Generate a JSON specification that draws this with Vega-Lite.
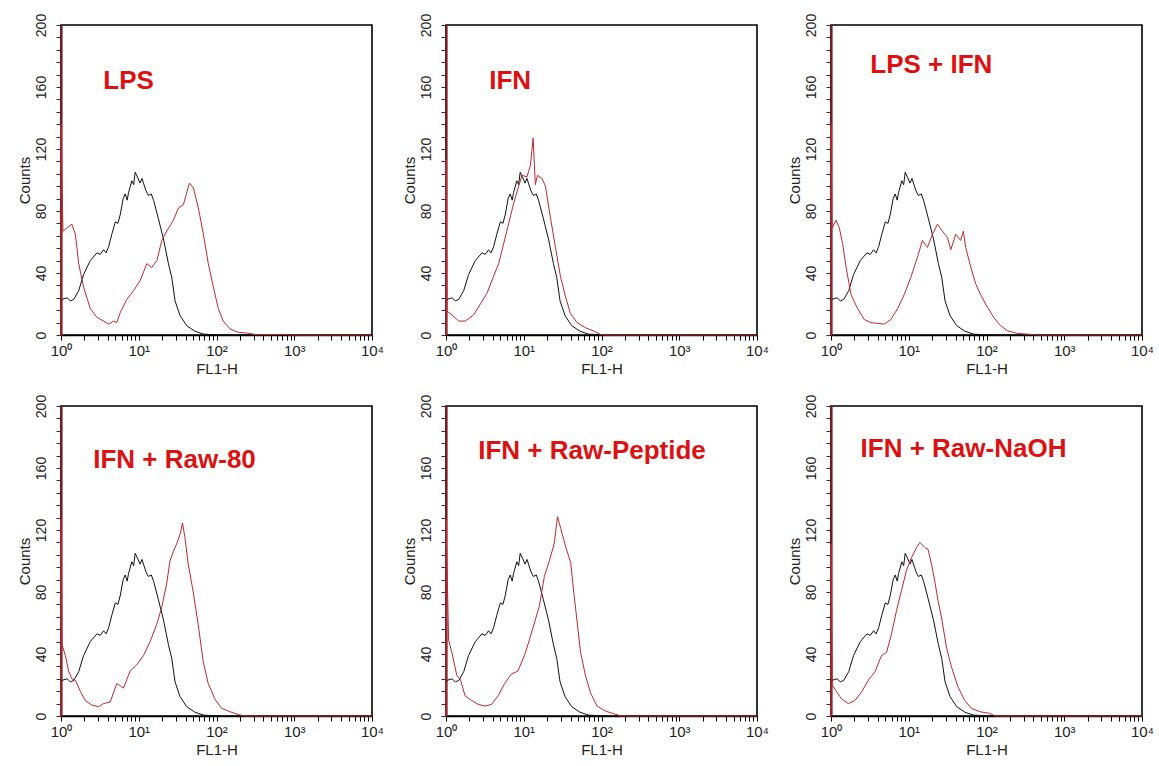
{
  "$schema": "https://vega.github.io/schema/vega-lite/v6.json",
  "background": "white",
  "padding": {"left": 16, "top": 12, "right": 0, "bottom": 0},
  "spacing": {"row": 16, "column": 16},
  "columns": 3,
  "datasets": {
    "control": [
      {"x":1,"y":22},{"x":1.03,"y":23},{"x":1.2,"y":24},{"x":1.32,"y":22},{"x":1.46,"y":23},{"x":1.69,"y":28.6},{"x":1.95,"y":39},{"x":2.38,"y":48},{"x":2.9,"y":53},{"x":3.2,"y":52},{"x":3.53,"y":55},{"x":3.8,"y":53},{"x":4.1,"y":57},{"x":4.5,"y":65},{"x":5,"y":73},{"x":5.4,"y":72},{"x":5.8,"y":78},{"x":6.3,"y":88},{"x":6.7,"y":91},{"x":7.1,"y":87},{"x":7.4,"y":92},{"x":8.15,"y":99.5},{"x":8.6,"y":97},{"x":9,"y":105},{"x":9.6,"y":102},{"x":10.4,"y":98},{"x":11,"y":101},{"x":11.5,"y":98},{"x":12.4,"y":93},{"x":13.3,"y":90},{"x":14.5,"y":91},{"x":15.5,"y":87},{"x":17.9,"y":75},{"x":20.8,"y":62},{"x":24.1,"y":46},{"x":26.6,"y":37},{"x":29.3,"y":22},{"x":34,"y":12.5},{"x":41.4,"y":6},{"x":53,"y":2.4},{"x":67.8,"y":0.6},{"x":91,"y":0.2},{"x":120,"y":0},{"x":10000,"y":0}
    ],
    "lps": [
      {"x":1,"y":0},{"x":1,"y":136},{"x":1.06,"y":67},{"x":1.19,"y":69},{"x":1.38,"y":71.5},{"x":1.53,"y":65},{"x":1.69,"y":46},{"x":1.95,"y":31},{"x":2.38,"y":17},{"x":2.9,"y":11.4},{"x":3.53,"y":9},{"x":4.1,"y":7},{"x":4.74,"y":9},{"x":5.2,"y":8},{"x":5.8,"y":14.6},{"x":7.03,"y":23},{"x":8.57,"y":28.6},{"x":10.4,"y":35},{"x":12.7,"y":46},{"x":14.7,"y":43.6},{"x":17.1,"y":48},{"x":19.8,"y":61},{"x":22.9,"y":67},{"x":27.9,"y":74},{"x":32.4,"y":82},{"x":37.5,"y":84},{"x":44.8,"y":98},{"x":50.4,"y":95},{"x":58.4,"y":82},{"x":67.8,"y":65},{"x":78.5,"y":46},{"x":91,"y":31},{"x":105.6,"y":17},{"x":122,"y":9},{"x":149,"y":4},{"x":190,"y":1.7},{"x":244,"y":1.3},{"x":327,"y":0.2},{"x":720,"y":0.4},{"x":900,"y":0},{"x":10000,"y":0}
    ],
    "ifn": [
      {"x":1,"y":0},{"x":1,"y":113},{"x":1.03,"y":15.4},{"x":1.19,"y":13},{"x":1.46,"y":9},{"x":1.77,"y":9},{"x":2.27,"y":13},{"x":2.77,"y":20},{"x":3.37,"y":27},{"x":4.1,"y":38},{"x":4.76,"y":46},{"x":5.52,"y":59},{"x":6.4,"y":72},{"x":7.42,"y":85},{"x":8.6,"y":96},{"x":9.5,"y":103},{"x":11,"y":102},{"x":12.2,"y":109.5},{"x":13.2,"y":127},{"x":14.1,"y":97},{"x":15,"y":103},{"x":17.2,"y":101},{"x":19,"y":96},{"x":22,"y":76},{"x":25.5,"y":57},{"x":29.6,"y":38},{"x":34.3,"y":25},{"x":39.8,"y":14},{"x":48.4,"y":8},{"x":62,"y":4.7},{"x":79,"y":2.6},{"x":96.6,"y":0.4},{"x":110,"y":0},{"x":10000,"y":0}
    ],
    "lpsifn": [
      {"x":1,"y":0},{"x":1,"y":136},{"x":1.03,"y":69},{"x":1.16,"y":74},{"x":1.28,"y":69},{"x":1.41,"y":59},{"x":1.56,"y":44},{"x":1.81,"y":26},{"x":2.2,"y":17},{"x":2.68,"y":10},{"x":3.26,"y":8},{"x":3.97,"y":7.5},{"x":4.83,"y":7},{"x":5.89,"y":10},{"x":7.18,"y":17},{"x":8.73,"y":26},{"x":10.6,"y":37},{"x":12.9,"y":50},{"x":15,"y":61},{"x":17.4,"y":56.5},{"x":20.2,"y":65},{"x":23.4,"y":71.5},{"x":27.1,"y":67},{"x":31.4,"y":63},{"x":34.7,"y":55},{"x":40.2,"y":65},{"x":46.6,"y":61},{"x":50.4,"y":67},{"x":54,"y":56.5},{"x":62.6,"y":44},{"x":72.6,"y":33},{"x":84,"y":26},{"x":102.5,"y":18},{"x":125,"y":11},{"x":152,"y":6},{"x":185,"y":2.8},{"x":249,"y":1},{"x":369,"y":0.4},{"x":450,"y":0},{"x":10000,"y":0}
    ],
    "raw80": [
      {"x":1,"y":0},{"x":1,"y":127},{"x":1.03,"y":46},{"x":1.14,"y":39},{"x":1.25,"y":29},{"x":1.38,"y":24},{"x":1.53,"y":23},{"x":1.77,"y":16},{"x":2.05,"y":10},{"x":2.5,"y":7},{"x":3.04,"y":6},{"x":3.52,"y":8},{"x":4.29,"y":9},{"x":5.22,"y":21},{"x":6.36,"y":18},{"x":7.74,"y":29},{"x":9.43,"y":33},{"x":11.5,"y":39},{"x":14,"y":48},{"x":17,"y":59},{"x":19.7,"y":70},{"x":22.8,"y":85},{"x":25.2,"y":100},{"x":27.8,"y":106},{"x":30.7,"y":111},{"x":33.9,"y":117},{"x":36.6,"y":124.5},{"x":39.3,"y":115},{"x":43.3,"y":98},{"x":50.2,"y":80},{"x":58.2,"y":59},{"x":67.5,"y":35},{"x":78.2,"y":21},{"x":95,"y":11},{"x":116,"y":5},{"x":148,"y":2.8},{"x":190,"y":1},{"x":230,"y":0},{"x":10000,"y":0}
    ],
    "peptide": [
      {"x":1,"y":0},{"x":1,"y":127},{"x":1.08,"y":49},{"x":1.19,"y":41},{"x":1.38,"y":26},{"x":1.52,"y":24},{"x":1.76,"y":13},{"x":2.14,"y":10},{"x":2.6,"y":7.5},{"x":3.17,"y":6.4},{"x":3.85,"y":7.5},{"x":4.68,"y":13},{"x":5.69,"y":21},{"x":6.92,"y":27},{"x":8.41,"y":29},{"x":10.2,"y":39},{"x":11.8,"y":49},{"x":13.7,"y":60},{"x":15.9,"y":71},{"x":18.4,"y":90},{"x":21.3,"y":100},{"x":24.6,"y":111},{"x":27.2,"y":128.6},{"x":29.9,"y":121},{"x":34.7,"y":109},{"x":40.1,"y":99},{"x":44.2,"y":79},{"x":48.8,"y":60},{"x":53.8,"y":41},{"x":62.3,"y":26},{"x":72.1,"y":15},{"x":87.7,"y":6.4},{"x":112,"y":3.2},{"x":143,"y":1.5},{"x":180,"y":0},{"x":10000,"y":0}
    ],
    "naoh": [
      {"x":1,"y":0},{"x":1,"y":111},{"x":1.04,"y":20},{"x":1.18,"y":15.6},{"x":1.37,"y":11},{"x":1.67,"y":8},{"x":2.03,"y":10},{"x":2.48,"y":15.6},{"x":3.01,"y":23},{"x":3.67,"y":28.5},{"x":4.47,"y":39},{"x":5.18,"y":41},{"x":6,"y":53},{"x":6.96,"y":68},{"x":8.07,"y":81},{"x":9.35,"y":94},{"x":10.8,"y":102},{"x":12.6,"y":108.7},{"x":13.9,"y":112},{"x":16.1,"y":108.7},{"x":17.7,"y":107.6},{"x":19.6,"y":98},{"x":21.6,"y":87},{"x":23.9,"y":74},{"x":26.3,"y":64},{"x":30.5,"y":44.5},{"x":35.4,"y":31.7},{"x":43,"y":18.8},{"x":52.5,"y":10},{"x":63.8,"y":5},{"x":81.6,"y":2.8},{"x":109.7,"y":1.7},{"x":130,"y":0},{"x":10000,"y":0}
    ]
  },
  "concat": [
    {
      "width": 311, "height": 310,
      "layer": [
        {"data": {"name": "control"}, "mark": {"type": "line", "color": "#111111", "strokeWidth": 1},
         "encoding": {
          "x": {"field": "x", "type": "quantitative", "scale": {"type": "log", "domain": [1, 10000]}, "axis": {"title": "FL1-H", "values": [1,2,3,4,5,6,7,8,9,10,20,30,40,50,60,70,80,90,100,200,300,400,500,600,700,800,900,1000,2000,3000,4000,5000,6000,7000,8000,9000,10000], "labelExpr": "datum.value == 1 ? '10⁰' : datum.value == 10 ? '10¹' : datum.value == 100 ? '10²' : datum.value == 1000 ? '10³' : datum.value == 10000 ? '10⁴' : ''"}},
          "y": {"field": "y", "type": "quantitative", "scale": {"domain": [0, 200]}, "axis": {"title": "Counts", "values": [0,8,16,24,32,40,48,56,64,72,80,88,96,104,112,120,128,136,144,152,160,168,176,184,192,200], "labelExpr": "datum.value % 40 == 0 ? datum.label : ''"}}}},
        {"data": {"name": "lps"}, "mark": {"type": "line", "color": "#bb2a32", "strokeWidth": 1},
         "encoding": {
          "x": {"field": "x", "type": "quantitative", "scale": {"type": "log", "domain": [1, 10000]}, "axis": {"title": "FL1-H", "values": [1,2,3,4,5,6,7,8,9,10,20,30,40,50,60,70,80,90,100,200,300,400,500,600,700,800,900,1000,2000,3000,4000,5000,6000,7000,8000,9000,10000], "labelExpr": "datum.value == 1 ? '10⁰' : datum.value == 10 ? '10¹' : datum.value == 100 ? '10²' : datum.value == 1000 ? '10³' : datum.value == 10000 ? '10⁴' : ''"}},
          "y": {"field": "y", "type": "quantitative", "scale": {"domain": [0, 200]}, "axis": {"title": "Counts", "values": [0,8,16,24,32,40,48,56,64,72,80,88,96,104,112,120,128,136,144,152,160,168,176,184,192,200], "labelExpr": "datum.value % 40 == 0 ? datum.label : ''"}}}},
        {"data": {"values": [{"label": "LPS"}]}, "mark": {"type": "text", "align": "left", "baseline": "middle", "fontSize": 26, "fontWeight": "bold", "color": "#dd1111", "font": "Liberation Sans"},
         "encoding": {
          "x": {"datum": 3.5, "type": "quantitative", "scale": {"type": "log", "domain": [1, 10000]}, "axis": {"title": "FL1-H", "values": [1,2,3,4,5,6,7,8,9,10,20,30,40,50,60,70,80,90,100,200,300,400,500,600,700,800,900,1000,2000,3000,4000,5000,6000,7000,8000,9000,10000], "labelExpr": "datum.value == 1 ? '10⁰' : datum.value == 10 ? '10¹' : datum.value == 100 ? '10²' : datum.value == 1000 ? '10³' : datum.value == 10000 ? '10⁴' : ''"}},
          "y": {"datum": 164, "type": "quantitative", "scale": {"domain": [0, 200]}, "axis": {"title": "Counts", "values": [0,8,16,24,32,40,48,56,64,72,80,88,96,104,112,120,128,136,144,152,160,168,176,184,192,200], "labelExpr": "datum.value % 40 == 0 ? datum.label : ''"}},
          "text": {"field": "label"}}}
      ]
    },
    {
      "width": 311, "height": 310,
      "layer": [
        {"data": {"name": "control"}, "mark": {"type": "line", "color": "#111111", "strokeWidth": 1},
         "encoding": {
          "x": {"field": "x", "type": "quantitative", "scale": {"type": "log", "domain": [1, 10000]}, "axis": {"title": "FL1-H", "values": [1,2,3,4,5,6,7,8,9,10,20,30,40,50,60,70,80,90,100,200,300,400,500,600,700,800,900,1000,2000,3000,4000,5000,6000,7000,8000,9000,10000], "labelExpr": "datum.value == 1 ? '10⁰' : datum.value == 10 ? '10¹' : datum.value == 100 ? '10²' : datum.value == 1000 ? '10³' : datum.value == 10000 ? '10⁴' : ''"}},
          "y": {"field": "y", "type": "quantitative", "scale": {"domain": [0, 200]}, "axis": {"title": "Counts", "values": [0,8,16,24,32,40,48,56,64,72,80,88,96,104,112,120,128,136,144,152,160,168,176,184,192,200], "labelExpr": "datum.value % 40 == 0 ? datum.label : ''"}}}},
        {"data": {"name": "ifn"}, "mark": {"type": "line", "color": "#bb2a32", "strokeWidth": 1},
         "encoding": {
          "x": {"field": "x", "type": "quantitative", "scale": {"type": "log", "domain": [1, 10000]}, "axis": {"title": "FL1-H", "values": [1,2,3,4,5,6,7,8,9,10,20,30,40,50,60,70,80,90,100,200,300,400,500,600,700,800,900,1000,2000,3000,4000,5000,6000,7000,8000,9000,10000], "labelExpr": "datum.value == 1 ? '10⁰' : datum.value == 10 ? '10¹' : datum.value == 100 ? '10²' : datum.value == 1000 ? '10³' : datum.value == 10000 ? '10⁴' : ''"}},
          "y": {"field": "y", "type": "quantitative", "scale": {"domain": [0, 200]}, "axis": {"title": "Counts", "values": [0,8,16,24,32,40,48,56,64,72,80,88,96,104,112,120,128,136,144,152,160,168,176,184,192,200], "labelExpr": "datum.value % 40 == 0 ? datum.label : ''"}}}},
        {"data": {"values": [{"label": "IFN"}]}, "mark": {"type": "text", "align": "left", "baseline": "middle", "fontSize": 26, "fontWeight": "bold", "color": "#dd1111", "font": "Liberation Sans"},
         "encoding": {
          "x": {"datum": 3.6, "type": "quantitative", "scale": {"type": "log", "domain": [1, 10000]}, "axis": {"title": "FL1-H", "values": [1,2,3,4,5,6,7,8,9,10,20,30,40,50,60,70,80,90,100,200,300,400,500,600,700,800,900,1000,2000,3000,4000,5000,6000,7000,8000,9000,10000], "labelExpr": "datum.value == 1 ? '10⁰' : datum.value == 10 ? '10¹' : datum.value == 100 ? '10²' : datum.value == 1000 ? '10³' : datum.value == 10000 ? '10⁴' : ''"}},
          "y": {"datum": 164, "type": "quantitative", "scale": {"domain": [0, 200]}, "axis": {"title": "Counts", "values": [0,8,16,24,32,40,48,56,64,72,80,88,96,104,112,120,128,136,144,152,160,168,176,184,192,200], "labelExpr": "datum.value % 40 == 0 ? datum.label : ''"}},
          "text": {"field": "label"}}}
      ]
    },
    {
      "width": 311, "height": 310,
      "layer": [
        {"data": {"name": "control"}, "mark": {"type": "line", "color": "#111111", "strokeWidth": 1},
         "encoding": {
          "x": {"field": "x", "type": "quantitative", "scale": {"type": "log", "domain": [1, 10000]}, "axis": {"title": "FL1-H", "values": [1,2,3,4,5,6,7,8,9,10,20,30,40,50,60,70,80,90,100,200,300,400,500,600,700,800,900,1000,2000,3000,4000,5000,6000,7000,8000,9000,10000], "labelExpr": "datum.value == 1 ? '10⁰' : datum.value == 10 ? '10¹' : datum.value == 100 ? '10²' : datum.value == 1000 ? '10³' : datum.value == 10000 ? '10⁴' : ''"}},
          "y": {"field": "y", "type": "quantitative", "scale": {"domain": [0, 200]}, "axis": {"title": "Counts", "values": [0,8,16,24,32,40,48,56,64,72,80,88,96,104,112,120,128,136,144,152,160,168,176,184,192,200], "labelExpr": "datum.value % 40 == 0 ? datum.label : ''"}}}},
        {"data": {"name": "lpsifn"}, "mark": {"type": "line", "color": "#bb2a32", "strokeWidth": 1},
         "encoding": {
          "x": {"field": "x", "type": "quantitative", "scale": {"type": "log", "domain": [1, 10000]}, "axis": {"title": "FL1-H", "values": [1,2,3,4,5,6,7,8,9,10,20,30,40,50,60,70,80,90,100,200,300,400,500,600,700,800,900,1000,2000,3000,4000,5000,6000,7000,8000,9000,10000], "labelExpr": "datum.value == 1 ? '10⁰' : datum.value == 10 ? '10¹' : datum.value == 100 ? '10²' : datum.value == 1000 ? '10³' : datum.value == 10000 ? '10⁴' : ''"}},
          "y": {"field": "y", "type": "quantitative", "scale": {"domain": [0, 200]}, "axis": {"title": "Counts", "values": [0,8,16,24,32,40,48,56,64,72,80,88,96,104,112,120,128,136,144,152,160,168,176,184,192,200], "labelExpr": "datum.value % 40 == 0 ? datum.label : ''"}}}},
        {"data": {"values": [{"label": "LPS + IFN"}]}, "mark": {"type": "text", "align": "left", "baseline": "middle", "fontSize": 26, "fontWeight": "bold", "color": "#dd1111", "font": "Liberation Sans"},
         "encoding": {
          "x": {"datum": 3.2, "type": "quantitative", "scale": {"type": "log", "domain": [1, 10000]}, "axis": {"title": "FL1-H", "values": [1,2,3,4,5,6,7,8,9,10,20,30,40,50,60,70,80,90,100,200,300,400,500,600,700,800,900,1000,2000,3000,4000,5000,6000,7000,8000,9000,10000], "labelExpr": "datum.value == 1 ? '10⁰' : datum.value == 10 ? '10¹' : datum.value == 100 ? '10²' : datum.value == 1000 ? '10³' : datum.value == 10000 ? '10⁴' : ''"}},
          "y": {"datum": 174, "type": "quantitative", "scale": {"domain": [0, 200]}, "axis": {"title": "Counts", "values": [0,8,16,24,32,40,48,56,64,72,80,88,96,104,112,120,128,136,144,152,160,168,176,184,192,200], "labelExpr": "datum.value % 40 == 0 ? datum.label : ''"}},
          "text": {"field": "label"}}}
      ]
    },
    {
      "width": 311, "height": 310,
      "layer": [
        {"data": {"name": "control"}, "mark": {"type": "line", "color": "#111111", "strokeWidth": 1},
         "encoding": {
          "x": {"field": "x", "type": "quantitative", "scale": {"type": "log", "domain": [1, 10000]}, "axis": {"title": "FL1-H", "values": [1,2,3,4,5,6,7,8,9,10,20,30,40,50,60,70,80,90,100,200,300,400,500,600,700,800,900,1000,2000,3000,4000,5000,6000,7000,8000,9000,10000], "labelExpr": "datum.value == 1 ? '10⁰' : datum.value == 10 ? '10¹' : datum.value == 100 ? '10²' : datum.value == 1000 ? '10³' : datum.value == 10000 ? '10⁴' : ''"}},
          "y": {"field": "y", "type": "quantitative", "scale": {"domain": [0, 200]}, "axis": {"title": "Counts", "values": [0,8,16,24,32,40,48,56,64,72,80,88,96,104,112,120,128,136,144,152,160,168,176,184,192,200], "labelExpr": "datum.value % 40 == 0 ? datum.label : ''"}}}},
        {"data": {"name": "raw80"}, "mark": {"type": "line", "color": "#bb2a32", "strokeWidth": 1},
         "encoding": {
          "x": {"field": "x", "type": "quantitative", "scale": {"type": "log", "domain": [1, 10000]}, "axis": {"title": "FL1-H", "values": [1,2,3,4,5,6,7,8,9,10,20,30,40,50,60,70,80,90,100,200,300,400,500,600,700,800,900,1000,2000,3000,4000,5000,6000,7000,8000,9000,10000], "labelExpr": "datum.value == 1 ? '10⁰' : datum.value == 10 ? '10¹' : datum.value == 100 ? '10²' : datum.value == 1000 ? '10³' : datum.value == 10000 ? '10⁴' : ''"}},
          "y": {"field": "y", "type": "quantitative", "scale": {"domain": [0, 200]}, "axis": {"title": "Counts", "values": [0,8,16,24,32,40,48,56,64,72,80,88,96,104,112,120,128,136,144,152,160,168,176,184,192,200], "labelExpr": "datum.value % 40 == 0 ? datum.label : ''"}}}},
        {"data": {"values": [{"label": "IFN + Raw-80"}]}, "mark": {"type": "text", "align": "left", "baseline": "middle", "fontSize": 26, "fontWeight": "bold", "color": "#dd1111", "font": "Liberation Sans"},
         "encoding": {
          "x": {"datum": 2.6, "type": "quantitative", "scale": {"type": "log", "domain": [1, 10000]}, "axis": {"title": "FL1-H", "values": [1,2,3,4,5,6,7,8,9,10,20,30,40,50,60,70,80,90,100,200,300,400,500,600,700,800,900,1000,2000,3000,4000,5000,6000,7000,8000,9000,10000], "labelExpr": "datum.value == 1 ? '10⁰' : datum.value == 10 ? '10¹' : datum.value == 100 ? '10²' : datum.value == 1000 ? '10³' : datum.value == 10000 ? '10⁴' : ''"}},
          "y": {"datum": 165, "type": "quantitative", "scale": {"domain": [0, 200]}, "axis": {"title": "Counts", "values": [0,8,16,24,32,40,48,56,64,72,80,88,96,104,112,120,128,136,144,152,160,168,176,184,192,200], "labelExpr": "datum.value % 40 == 0 ? datum.label : ''"}},
          "text": {"field": "label"}}}
      ]
    },
    {
      "width": 311, "height": 310,
      "layer": [
        {"data": {"name": "control"}, "mark": {"type": "line", "color": "#111111", "strokeWidth": 1},
         "encoding": {
          "x": {"field": "x", "type": "quantitative", "scale": {"type": "log", "domain": [1, 10000]}, "axis": {"title": "FL1-H", "values": [1,2,3,4,5,6,7,8,9,10,20,30,40,50,60,70,80,90,100,200,300,400,500,600,700,800,900,1000,2000,3000,4000,5000,6000,7000,8000,9000,10000], "labelExpr": "datum.value == 1 ? '10⁰' : datum.value == 10 ? '10¹' : datum.value == 100 ? '10²' : datum.value == 1000 ? '10³' : datum.value == 10000 ? '10⁴' : ''"}},
          "y": {"field": "y", "type": "quantitative", "scale": {"domain": [0, 200]}, "axis": {"title": "Counts", "values": [0,8,16,24,32,40,48,56,64,72,80,88,96,104,112,120,128,136,144,152,160,168,176,184,192,200], "labelExpr": "datum.value % 40 == 0 ? datum.label : ''"}}}},
        {"data": {"name": "peptide"}, "mark": {"type": "line", "color": "#bb2a32", "strokeWidth": 1},
         "encoding": {
          "x": {"field": "x", "type": "quantitative", "scale": {"type": "log", "domain": [1, 10000]}, "axis": {"title": "FL1-H", "values": [1,2,3,4,5,6,7,8,9,10,20,30,40,50,60,70,80,90,100,200,300,400,500,600,700,800,900,1000,2000,3000,4000,5000,6000,7000,8000,9000,10000], "labelExpr": "datum.value == 1 ? '10⁰' : datum.value == 10 ? '10¹' : datum.value == 100 ? '10²' : datum.value == 1000 ? '10³' : datum.value == 10000 ? '10⁴' : ''"}},
          "y": {"field": "y", "type": "quantitative", "scale": {"domain": [0, 200]}, "axis": {"title": "Counts", "values": [0,8,16,24,32,40,48,56,64,72,80,88,96,104,112,120,128,136,144,152,160,168,176,184,192,200], "labelExpr": "datum.value % 40 == 0 ? datum.label : ''"}}}},
        {"data": {"values": [{"label": "IFN + Raw-Peptide"}]}, "mark": {"type": "text", "align": "left", "baseline": "middle", "fontSize": 26, "fontWeight": "bold", "color": "#dd1111", "font": "Liberation Sans"},
         "encoding": {
          "x": {"datum": 2.6, "type": "quantitative", "scale": {"type": "log", "domain": [1, 10000]}, "axis": {"title": "FL1-H", "values": [1,2,3,4,5,6,7,8,9,10,20,30,40,50,60,70,80,90,100,200,300,400,500,600,700,800,900,1000,2000,3000,4000,5000,6000,7000,8000,9000,10000], "labelExpr": "datum.value == 1 ? '10⁰' : datum.value == 10 ? '10¹' : datum.value == 100 ? '10²' : datum.value == 1000 ? '10³' : datum.value == 10000 ? '10⁴' : ''"}},
          "y": {"datum": 171, "type": "quantitative", "scale": {"domain": [0, 200]}, "axis": {"title": "Counts", "values": [0,8,16,24,32,40,48,56,64,72,80,88,96,104,112,120,128,136,144,152,160,168,176,184,192,200], "labelExpr": "datum.value % 40 == 0 ? datum.label : ''"}},
          "text": {"field": "label"}}}
      ]
    },
    {
      "width": 311, "height": 310,
      "layer": [
        {"data": {"name": "control"}, "mark": {"type": "line", "color": "#111111", "strokeWidth": 1},
         "encoding": {
          "x": {"field": "x", "type": "quantitative", "scale": {"type": "log", "domain": [1, 10000]}, "axis": {"title": "FL1-H", "values": [1,2,3,4,5,6,7,8,9,10,20,30,40,50,60,70,80,90,100,200,300,400,500,600,700,800,900,1000,2000,3000,4000,5000,6000,7000,8000,9000,10000], "labelExpr": "datum.value == 1 ? '10⁰' : datum.value == 10 ? '10¹' : datum.value == 100 ? '10²' : datum.value == 1000 ? '10³' : datum.value == 10000 ? '10⁴' : ''"}},
          "y": {"field": "y", "type": "quantitative", "scale": {"domain": [0, 200]}, "axis": {"title": "Counts", "values": [0,8,16,24,32,40,48,56,64,72,80,88,96,104,112,120,128,136,144,152,160,168,176,184,192,200], "labelExpr": "datum.value % 40 == 0 ? datum.label : ''"}}}},
        {"data": {"name": "naoh"}, "mark": {"type": "line", "color": "#bb2a32", "strokeWidth": 1},
         "encoding": {
          "x": {"field": "x", "type": "quantitative", "scale": {"type": "log", "domain": [1, 10000]}, "axis": {"title": "FL1-H", "values": [1,2,3,4,5,6,7,8,9,10,20,30,40,50,60,70,80,90,100,200,300,400,500,600,700,800,900,1000,2000,3000,4000,5000,6000,7000,8000,9000,10000], "labelExpr": "datum.value == 1 ? '10⁰' : datum.value == 10 ? '10¹' : datum.value == 100 ? '10²' : datum.value == 1000 ? '10³' : datum.value == 10000 ? '10⁴' : ''"}},
          "y": {"field": "y", "type": "quantitative", "scale": {"domain": [0, 200]}, "axis": {"title": "Counts", "values": [0,8,16,24,32,40,48,56,64,72,80,88,96,104,112,120,128,136,144,152,160,168,176,184,192,200], "labelExpr": "datum.value % 40 == 0 ? datum.label : ''"}}}},
        {"data": {"values": [{"label": "IFN  + Raw-NaOH"}]}, "mark": {"type": "text", "align": "left", "baseline": "middle", "fontSize": 26, "fontWeight": "bold", "color": "#dd1111", "font": "Liberation Sans"},
         "encoding": {
          "x": {"datum": 2.4, "type": "quantitative", "scale": {"type": "log", "domain": [1, 10000]}, "axis": {"title": "FL1-H", "values": [1,2,3,4,5,6,7,8,9,10,20,30,40,50,60,70,80,90,100,200,300,400,500,600,700,800,900,1000,2000,3000,4000,5000,6000,7000,8000,9000,10000], "labelExpr": "datum.value == 1 ? '10⁰' : datum.value == 10 ? '10¹' : datum.value == 100 ? '10²' : datum.value == 1000 ? '10³' : datum.value == 10000 ? '10⁴' : ''"}},
          "y": {"datum": 172, "type": "quantitative", "scale": {"domain": [0, 200]}, "axis": {"title": "Counts", "values": [0,8,16,24,32,40,48,56,64,72,80,88,96,104,112,120,128,136,144,152,160,168,176,184,192,200], "labelExpr": "datum.value % 40 == 0 ? datum.label : ''"}},
          "text": {"field": "label"}}}
      ]
    }
  ],
  "config": {
    "font": "Liberation Sans",
    "view": {"stroke": "#000000", "strokeWidth": 1.6},
    "axis": {"grid": false, "domainColor": "#000000", "domainWidth": 1.3, "tickColor": "#000000", "tickSize": 5, "tickWidth": 1, "labelColor": "#222222", "labelFontSize": 14, "titleFontSize": 15, "titleFontWeight": "normal", "titleColor": "#222222", "labelOverlap": false, "labelBound": false, "labelFlush": false},
    "axisY": {"labelAngle": -90, "labelAlign": "center", "labelBaseline": "bottom", "labelPadding": 8, "titlePadding": 2, "domainColor": "#7a1c22", "domainWidth": 2.2, "tickColor": "#5a1a1a"},
    "axisX": {"labelPadding": 3, "titlePadding": 3, "labelFontSize": 15}
  }
}
